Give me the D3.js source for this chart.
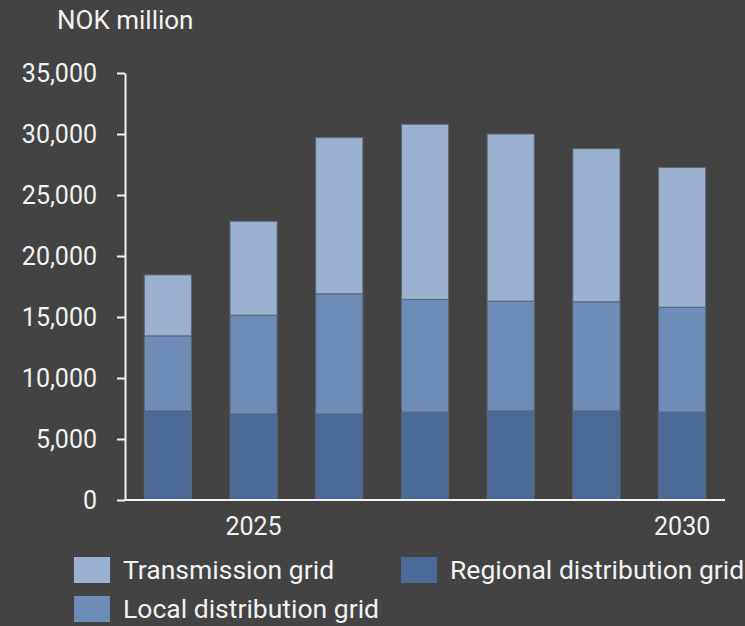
<!DOCTYPE html>
<html>
<head>
<meta charset="utf-8">
<script src="https://cdn.jsdelivr.net/npm/d3@7"></script>
<style>
  html, body { margin: 0; padding: 0; background: #434343; }
  svg { display: block; font-family: Roboto, "Noto Sans", sans-serif; }
  .axis text { fill: #f2f2f2; font-size: 25px; font-family: Roboto, sans-serif; }
  .axis path, .axis line { stroke: #f2f2f2; stroke-width: 2; }
</style>
</head>
<body>
<svg id="chart" width="745" height="626"></svg>
<script>
const years = ["2024", "2025", "2026", "2027", "2028", "2029", "2030"];
const regional = [7300, 7050, 7050, 7200, 7300, 7300, 7200];
const local = [6150, 8100, 9850, 9250, 9000, 8950, 8600];
const transmission = [5000, 7700, 12800, 14350, 13700, 12550, 11450];
const yTicks = [0, 5000, 10000, 15000, 20000, 25000, 30000, 35000];
const xLabels = ["2025", "2030"];

const seriesKeys = ["regional", "local", "transmission"];
const seriesNames = {
    transmission: "Transmission grid",
    regional: "Regional distribution grid",
    local: "Local distribution grid"
};
const colors = {
    regional: "#4b6a98",
    local: "#6d8cb8",
    transmission: "#9cb0cf"
};

const svg = d3.select("#chart");
const margin = { left: 125, right: 20, top: 73, bottom: 126 };
const width = 745, height = 626;

const rows = years.map((y, i) => ({
    year: y,
    regional: regional[i],
    local: local[i],
    transmission: transmission[i]
}));

const x = d3.scaleBand()
    .domain(years)
    .range([margin.left, width - margin.right])
    .paddingInner(0.45)
    .paddingOuter(0.225);

const y = d3.scaleLinear()
    .domain([0, 35000])
    .range([height - margin.bottom, margin.top]);

const stacked = d3.stack().keys(seriesKeys)(rows);

svg.append("g")
    .selectAll("g")
    .data(stacked)
    .join("g")
    .attr("fill", d => colors[d.key])
    .selectAll("rect")
    .data(d => d)
    .join("rect")
    .attr("x", d => x(d.data.year))
    .attr("y", d => y(d[1]))
    .attr("width", x.bandwidth())
    .attr("height", d => y(d[0]) - y(d[1]))
    .attr("stroke", "#5d6675")
    .attr("stroke-width", 1);

// y axis
svg.append("g")
    .attr("class", "axis")
    .attr("transform", `translate(${margin.left},0)`)
    .call(d3.axisLeft(y)
        .tickValues(yTicks)
        .tickFormat(d3.format(","))
        .tickSize(8)
        .tickSizeOuter(0)
        .tickPadding(20));

// x axis: plain line, only two year labels
svg.append("line")
    .attr("x1", margin.left).attr("x2", width - margin.right)
    .attr("y1", y(0)).attr("y2", y(0))
    .attr("stroke", "#f2f2f2").attr("stroke-width", 2);

svg.append("g")
    .attr("class", "axis")
    .selectAll("text")
    .data(xLabels)
    .join("text")
    .attr("x", d => x(d) + x.bandwidth() / 2)
    .attr("y", y(0) + 35)
    .attr("text-anchor", "middle")
    .text(d => d);

svg.append("text")
    .attr("x", 57)
    .attr("y", 29)
    .attr("fill", "#f2f2f2")
    .style("font-size", "26px")
    .text("NOK million");

// legend
const legendItems = [
    { key: "transmission", x: 74, y: 557 },
    { key: "regional", x: 401, y: 557 },
    { key: "local", x: 74, y: 596 }
];
const legend = svg.append("g")
    .selectAll("g")
    .data(legendItems)
    .join("g")
    .attr("transform", d => `translate(${d.x},${d.y})`);

legend.append("rect")
    .attr("width", 36)
    .attr("height", 26)
    .attr("fill", d => colors[d.key]);

legend.append("text")
    .attr("x", 49)
    .attr("y", 22)
    .attr("fill", "#f2f2f2")
    .style("font-size", "26.5px")
    .text(d => seriesNames[d.key]);
</script>
</body>
</html>
